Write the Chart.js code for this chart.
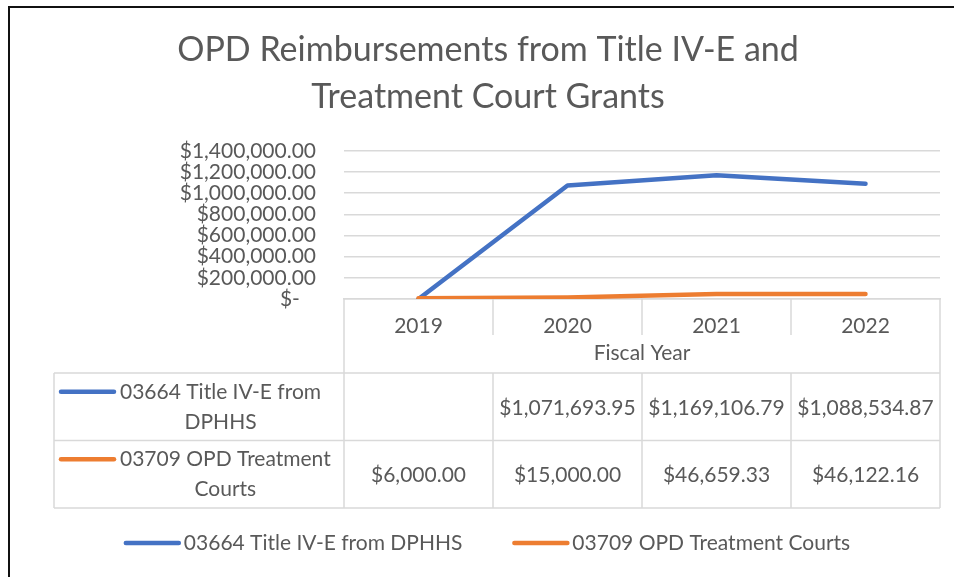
<!DOCTYPE html>
<html>
<head>
<meta charset="utf-8">
<script src="https://cdn.jsdelivr.net/npm/chart.js@4.4.1/dist/chart.umd.min.js"></script>
<style>
  body { margin: 0; background: #fff; }
</style>
</head>
<body>
<canvas id="grantChart" width="954" height="577"></canvas>
<script>
const years = ['2019', '2020', '2021', '2022'];
const seriesNames = ['03664 Title IV-E from DPHHS', '03709 OPD Treatment Courts'];
// 2019 is an empty cell for Title IV-E
const titleIVE = [null, 1071693.95, 1169106.79, 1088534.87];
const treatmentCourts = [6000, 15000, 46659.33, 46122.16];
const seriesColors = ['#4472C4', '#ED7D31'];

const textColor = '#595959';
const lineColor = '#D9D9D9';
const fontFamily = 'Lato, "Open Sans", sans-serif';
const pad = { top: 0, left: 36, right: 14, bottom: 0 };

Chart.defaults.font.family = fontFamily;
Chart.defaults.color = textColor;

const money = v => '$' + v.toLocaleString('en-US', { minimumFractionDigits: 2, maximumFractionDigits: 2 });

function drawKey(ctx, x, y, color) {
  ctx.save();
  ctx.strokeStyle = color;
  ctx.lineWidth = 4.5;
  ctx.lineCap = 'round';
  ctx.beginPath();
  ctx.moveTo(x, y);
  ctx.lineTo(x + 53, y);
  ctx.stroke();
  ctx.restore();
}

// wrap words into lines no wider than maxW
function wrap(ctx, text, maxW) {
  const words = text.split(' ');
  const lines = [];
  let cur = '';
  words.forEach(w => {
    const t = cur ? cur + ' ' + w : w;
    if (cur && ctx.measureText(t).width > maxW) {
      lines.push(cur);
      cur = w;
    } else {
      cur = t;
    }
  });
  lines.push(cur);
  return lines;
}

const tablePlugin = {
  id: 'dataTable',
  beforeDraw(chart) {
    // frame edge, only top and left show in the crop
    const ctx = chart.ctx;
    ctx.save();
    ctx.strokeStyle = '#111';
    ctx.lineWidth = 2;
    ctx.beginPath();
    ctx.moveTo(9, chart.height);
    ctx.lineTo(9, 7);
    ctx.lineTo(chart.width, 7);
    ctx.stroke();
    ctx.restore();
  },
  afterDraw(chart) {
    const ctx = chart.ctx;
    const xs = chart.scales.x;
    const top = xs.top;
    const left = xs.left, right = xs.right;
    const colW = (right - left) / years.length;
    const labelLeft = 54;
    const rowTop = top + 74;
    const rowH = 67.5;
    const rows = chart.data.datasets.map((ds, i) => ({
      name: ds.label,
      color: ds.borderColor,
      values: i === 0 ? titleIVE : treatmentCourts
    }));
    const bottom = rowTop + rowH * rows.length;

    ctx.save();
    ctx.strokeStyle = lineColor;
    ctx.lineWidth = 1.5;
    ctx.beginPath();
    // year dividers
    for (let i = 1; i < years.length; i++) {
      const x = left + colW * i;
      ctx.moveTo(x, top); ctx.lineTo(x, top + 36);
      ctx.moveTo(x, rowTop); ctx.lineTo(x, bottom);
    }
    ctx.moveTo(left, top); ctx.lineTo(left, bottom);
    ctx.moveTo(right, top); ctx.lineTo(right, bottom);
    ctx.moveTo(labelLeft, rowTop); ctx.lineTo(labelLeft, bottom);
    for (let r = 0; r <= rows.length; r++) {
      const y = rowTop + rowH * r;
      ctx.moveTo(labelLeft, y); ctx.lineTo(right, y);
    }
    ctx.stroke();

    ctx.font = '21px ' + fontFamily;
    ctx.fillStyle = textColor;
    ctx.textBaseline = 'middle';
    rows.forEach((row, r) => {
      const cy = rowTop + rowH * r + rowH / 2;
      // legend key and wrapped series name
      const keyX = labelLeft + 7;
      const textLeft = keyX + 59;
      const lines = wrap(ctx, row.name, left - textLeft - 4);
      const blockW = Math.max(...lines.map(l => ctx.measureText(l).width));
      const lh = 30;
      const y0 = cy - lh * (lines.length - 1) / 2;
      drawKey(ctx, keyX, y0, row.color);
      ctx.textAlign = 'center';
      lines.forEach((l, k) => ctx.fillText(l, textLeft + blockW / 2, y0 + lh * k));
      row.values.forEach((v, c) => {
        if (v === null) return;
        ctx.fillText(money(v), xs.getPixelForValue(c), cy + 1);
      });
    });

    // bottom legend
    ctx.textAlign = 'left';
    const ly = 543;
    const widths = rows.map(row => 53 + 5 + ctx.measureText(row.name).width);
    const gap = 52;
    const total = widths.reduce((a, b) => a + b, 0) + gap * (rows.length - 1);
    let lx = (pad.left + chart.width - pad.right) / 2 - total / 2;
    rows.forEach((row, i) => {
      drawKey(ctx, lx, ly, row.color);
      ctx.fillText(row.name, lx + 58, ly);
      lx += widths[i] + gap;
    });
    ctx.restore();
  }
};

const ctx = document.getElementById('grantChart');
new Chart(ctx, {
  type: 'line',
  data: {
    labels: years,
    datasets: [
      {
        label: seriesNames[0],
        // Excel plots the empty cell as zero
        data: titleIVE.map(v => v === null ? 0 : v),
        borderColor: seriesColors[0],
        backgroundColor: seriesColors[0],
        order: 1
      },
      {
        label: seriesNames[1],
        data: treatmentCourts,
        borderColor: seriesColors[1],
        backgroundColor: seriesColors[1],
        order: 0
      }
    ]
  },
  options: {
    responsive: false,
    animation: false,
    layout: { padding: pad },
    elements: {
      line: { borderWidth: 4.5, borderCapStyle: 'round', borderJoinStyle: 'round', tension: 0 },
      point: { radius: 0, hoverRadius: 0 }
    },
    plugins: {
      legend: { display: false },
      tooltip: { enabled: false },
      title: {
        display: true,
        text: ['OPD Reimbursements from Title IV-E and', 'Treatment Court Grants'],
        color: textColor,
        font: { size: 34, weight: 'normal', lineHeight: 1.38 },
        padding: { top: 26.5, bottom: 30.5 }
      }
    },
    scales: {
      x: {
        offset: true,
        grid: { display: false },
        border: { display: true, color: lineColor, width: 1.5 },
        ticks: { font: { size: 21 }, padding: 7, color: textColor },
        title: {
          display: true,
          text: 'Fiscal Year',
          color: textColor,
          font: { size: 21 },
          padding: { top: 0, bottom: 211.4 }
        },
        afterFit(scale) { scale.height = 278; }
      },
      y: {
        min: 0,
        max: 1400000,
        grid: { color: lineColor, lineWidth: 1.5, drawTicks: false },
        border: { display: false },
        ticks: {
          stepSize: 200000,
          autoSkip: false,
          padding: 28,
          font: { size: 21, lineHeight: 1 },
          color: textColor,
          callback: v => v === 0 ? '$-   ' : money(v)
        },
        afterFit(scale) { scale.width = 308; }
      }
    }
  },
  plugins: [tablePlugin]
});
</script>
</body>
</html>
